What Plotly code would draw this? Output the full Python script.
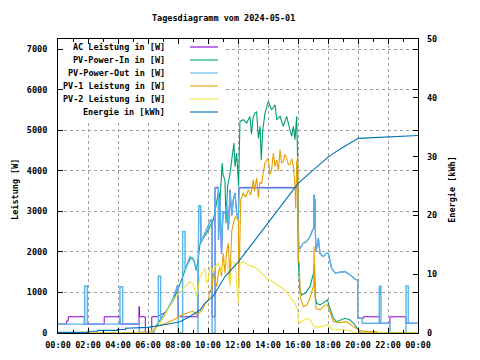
import plotly.graph_objects as go

title_text = "Tagesdiagramm vom 2024-05-01"
series_names = ["AC Leistung in [W]", "PV-Power-In in [W]", "PV-Power-Out in [W]",
                "PV-1 Leistung in [W]", "PV-2 Leistung in [W]", "Energie in [kWh]"]
series_colors = ["#9400d3", "#009e73", "#56b4e9", "#e69f00", "#f0e442", "#0072b2"]
series_widths = [1.0, 1.1, 1.4, 1.1, 1.1, 1.1]
x_tick_hours = [0, 2, 4, 6, 8, 10, 12, 14, 16, 18, 20, 22, 24]
x_tick_labels = ["00:00", "02:00", "04:00", "06:00", "08:00", "10:00", "12:00",
                 "14:00", "16:00", "18:00", "20:00", "22:00", "00:00"]
y_ticks = [0, 1000, 2000, 3000, 4000, 5000, 6000, 7000]
y2_ticks = [0, 10, 20, 30, 40, 50]
y_label = "Leistung [W]"
y2_label = "Energie [kWh]"

# AC Leistung [W]
ac_t = [0, 0.58, 0.58, 0.68, 0.68, 1.75, 1.75, 3.08, 3.08, 4.13, 4.13, 5.40, 5.40, 5.43, 5.43,
        5.82, 5.82, 6.25, 6.25, 6.60, 7.24, 7.69, 7.98, 8.02, 9.33, 9.38, 9.51, 9.53, 9.80,
        10.02, 10.18, 10.27, 10.27, 10.47, 10.47, 10.69, 10.70, 10.80, 10.90, 11.00, 11.13,
        11.24, 11.36, 11.47, 11.58, 11.69, 11.80, 11.91, 12.02, 12.07, 15.97, 16.02, 16.05,
        16.13, 16.36, 16.58, 16.80, 16.98, 17.05, 17.08, 17.10, 17.13, 17.16, 17.20, 17.36,
        17.47, 17.69, 17.91, 18.02, 18.13, 18.24, 18.47, 18.80, 19.13, 19.47, 19.80, 19.98,
        19.98, 20.36, 20.36, 21.42, 21.42, 22.13, 22.13, 23.20, 23.20, 24.00]
ac_w = [220, 220, 300, 300, 400, 400, 220, 220, 400, 400, 220, 220, 650, 650, 400,
        400, 0, 0, 400, 400, 527, 856, 1185, 400, 400, 3130, 3130, 2230, 2460,
        2667, 2790, 2790, 400, 400, 3590, 3590, 2300, 3300, 1960, 3000, 2955,
        3120, 2544, 3530, 2900, 3284, 3450, 2955, 2790, 3590, 3590, 2625, 2050,
        2090, 2214, 2255, 2378, 2543, 2580, 3407, 2600, 3300, 2460, 2008, 2337,
        1950, 1885, 1967, 1967, 1800, 1600, 1480, 1495, 1515, 1432, 1330, 1300,
        370, 360, 400, 400, 240, 240, 400, 400, 240, 240]

# PV-Power-In [W]
pvin_t = [0, 6.36, 6.58, 7.00, 7.24, 7.69, 8.02, 8.36, 8.58, 8.80, 8.95, 9.10, 9.20, 9.30,
          9.47, 9.70, 9.91, 10.13, 10.24, 10.36, 10.47, 10.58, 10.70, 10.80, 10.91, 10.95,
          11.00, 11.13, 11.20, 11.30, 11.47, 11.60, 11.73, 11.80, 11.91, 12.04, 12.10, 12.13,
          12.36, 12.58, 12.80, 12.90, 13.00, 13.13, 13.24, 13.36, 13.47, 13.55, 13.65, 13.80,
          14.02, 14.24, 14.47, 14.58, 14.80, 15.02, 15.24, 15.47, 15.58, 15.69, 15.80, 15.91,
          15.97, 16.02, 16.13, 16.24, 16.47, 16.80, 16.98, 17.05, 17.10, 17.15, 17.24, 17.47,
          17.80, 17.96, 18.09, 18.36, 18.58, 18.80, 19.13, 19.47, 19.80, 20.02, 20.20, 24.00]
pvin_w = [0, 0, 200, 420, 560, 800, 1100, 1450, 1650, 1820, 1860, 1750, 1550, 1700,
          2200, 2350, 2460, 2620, 2708, 2790, 3000, 3284, 3500, 3300, 3860, 4190,
          3900, 3778, 2708, 3600, 3943, 4300, 4683, 4100, 4436, 3614, 4500, 5218,
          5260, 5177, 5342, 4900, 5300, 5424, 5460, 4800, 5095, 4272, 5000, 5424,
          5712, 5506, 5630, 5260, 5342, 5095, 5342, 5013, 4850, 5095, 4766, 5342,
          4354, 1760, 1062, 938, 980, 1143, 1432, 1500, 1700, 900, 733, 691,
          773, 815, 650, 363, 280, 321, 363, 321, 198, 74, 0, 0]

# PV-Power-Out [W]
pvout_t = [0, 1.78, 1.78, 1.95, 1.95, 4.13, 4.13, 4.31, 4.31, 5.42, 5.42, 6.30, 6.50, 6.69,
           6.69, 6.84, 6.84, 7.24, 7.69, 7.98, 8.02, 8.31, 8.31, 8.47, 8.47, 8.69, 8.80, 9.02,
           9.24, 9.33, 9.33, 9.38, 9.38, 9.51, 9.53, 9.80, 10.02, 10.18, 10.27, 10.27, 10.47,
           10.47, 10.69, 10.70, 10.80, 10.90, 11.00, 11.13, 11.24, 11.36, 11.47, 11.58, 11.69,
           11.80, 11.91, 12.02, 12.07, 15.97, 16.02, 16.05, 16.13, 16.36, 16.58, 16.80, 16.98,
           17.05, 17.08, 17.10, 17.13, 17.16, 17.20, 17.36, 17.47, 17.69, 17.91, 18.02, 18.13,
           18.24, 18.47, 18.80, 19.13, 19.47, 19.80, 19.98, 19.98, 20.25, 20.30, 21.42, 21.42,
           21.47, 21.50, 21.53, 21.53, 22.13, 22.13, 23.20, 23.20, 23.35, 23.35, 24.00]
pvout_w = [220, 220, 1160, 1160, 220, 220, 1140, 1140, 230, 230, 0, 0, 120, 250,
           1400, 1400, 300, 540, 870, 1185, 0, 0, 2500, 2500, 1556, 1803, 1885, 1803,
           1556, 1550, 0, 0, 3130, 3130, 2230, 2460, 2667, 2790, 2790, 0, 0,
           3573, 3573, 2300, 3300, 1960, 3000, 2955, 3120, 2544, 3530, 2900, 3284,
           3450, 2955, 2790, 3573, 3573, 2625, 2050, 2090, 2214, 2255, 2378, 2543,
           2580, 3407, 2600, 3300, 2460, 2008, 2337, 1950, 1885, 1967, 1967, 1800,
           1600, 1480, 1495, 1515, 1432, 1330, 1300, 370, 360, 240, 240, 1160,
           940, 1160, 1160, 240, 240, 0, 0, 1160, 1160, 240, 240]

# PV-1 Leistung [W]
pv1_t = [0, 5.45, 5.45, 6.00, 6.30, 6.58, 7.24, 7.69, 7.91, 8.24, 8.50, 8.80, 9.00, 9.24, 9.50,
         9.69, 9.80, 10.02, 10.13, 10.24, 10.36, 10.47, 10.58, 10.70, 10.80, 10.90, 11.02,
         11.13, 11.24, 11.36, 11.47, 11.58, 11.69, 11.84, 12.02, 12.06, 12.12, 12.18, 12.36,
         12.50, 12.69, 12.85, 13.02, 13.10, 13.24, 13.36, 13.45, 13.58, 13.70, 13.80, 14.02,
         14.13, 14.24, 14.36, 14.47, 14.58, 14.70, 14.80, 14.90, 15.02, 15.13, 15.24, 15.36,
         15.47, 15.58, 15.69, 15.80, 15.85, 15.91, 15.98, 16.02, 16.09, 16.15, 16.20, 16.36,
         16.58, 16.80, 16.98, 17.05, 17.07, 17.12, 17.20, 17.47, 17.80, 17.96, 18.13, 18.36,
         18.80, 19.24, 19.69, 20.13, 20.58, 21.24, 21.30, 24.00]
pv1_w = [0, 0, 25, 30, 60, 160, 240, 320, 362, 444, 480, 510, 540, 444, 520,
         610, 733, 800, 1062, 1000, 1474, 1300, 1143, 1500, 1637, 1400, 1967,
         1474, 2000, 2214, 1310, 2500, 2708, 2873, 2790, 1143, 2500, 3284, 3450,
         3350, 3530, 3400, 3778, 3500, 3820, 3334, 3700, 3696, 4000, 4190, 4313,
         3900, 4025, 4436, 4100, 4272, 4000, 4519, 4200, 4230, 4400, 4313, 4150,
         4148, 4300, 4107, 3614, 3064, 4190, 4350, 1803, 1720, 900, 815, 650,
         691, 856, 1062, 1200, 2130, 1000, 609, 568, 691, 691, 527, 280,
         255, 280, 157, 58, 33, 33, 0, 0]

# PV-2 Leistung [W]
pv2_t = [0, 6.13, 6.50, 6.80, 7.24, 7.69, 8.00, 8.36, 8.80, 9.02, 9.24, 9.30, 9.47, 9.80, 9.91,
         10.02, 10.13, 10.24, 10.36, 10.47, 10.69, 10.90, 11.02, 11.24, 11.47, 11.58, 11.80,
         12.02, 12.08, 12.13, 12.36, 12.69, 13.02, 13.36, 13.69, 14.02, 14.13, 14.47, 14.80,
         15.13, 15.47, 15.80, 15.98, 16.02, 16.09, 16.24, 16.36, 16.58, 16.80, 17.07, 17.47,
         17.80, 17.96, 18.36, 18.80, 19.24, 19.69, 19.91, 24.00]
pv2_w = [0, 0, 100, 240, 527, 815, 950, 1100, 1267, 1185, 897, 1000, 1390, 1600, 1226,
         1310, 1637, 1597, 1474, 1637, 1720, 1500, 1679, 1803, 1143, 1760, 1720,
         733, 1300, 1720, 1760, 1679, 1637, 1556, 1433, 1310, 1310, 1227, 1145,
         1062, 897, 733, 568, 321, 240, 280, 321, 362, 339, 157, 146,
         172, 198, 74, 91, 74, 33, 0, 0]

# Energie [kWh]
en_t = [0, 2.00, 2.00, 2.65, 2.65, 3.95, 3.95, 4.50, 4.50, 6.00, 7.28, 8.13, 8.80, 9.47, 9.80,
        10.35, 11.13, 12.02, 13.13, 14.07, 16.02, 18.04, 19.00, 20.02, 21.50, 22.13, 23.35, 24.00]
en_kwh = [0.1, 0.1, 0.3, 0.3, 0.45, 0.45, 0.6, 0.6, 0.8, 0.95, 1.5, 1.9, 2.8, 3.9, 5.1,
          6.3, 9.6, 12.1, 15.8, 18.9, 25.5, 30.0, 31.6, 33.1, 33.3, 33.45, 33.6, 33.6]

series_data = [(ac_t, ac_w, "y"), (pvin_t, pvin_w, "y"), (pvout_t, pvout_w, "y"),
               (pv1_t, pv1_w, "y"), (pv2_t, pv2_w, "y"), (en_t, en_kwh, "y2")]

FONT = "DejaVu Sans Mono"
FS = 8.5
FW = "bold"
fig = go.Figure()
for (tt, vv, ax), name, col, lw in zip(series_data, series_names, series_colors, series_widths):
    fig.add_trace(go.Scatter(x=tt, y=vv, mode="lines", name=name, yaxis=ax,
                             line=dict(color=col, width=lw), showlegend=False))

tickfont = dict(family=FONT, size=FS, color="black", weight=FW)
# the page body has an 8px margin, so the figure margins are reduced by 8px
fig.update_layout(
    width=480, height=360,
    margin=dict(l=50, r=70, t=31, b=35, autoexpand=False),
    paper_bgcolor="white", plot_bgcolor="white",
    font=dict(family=FONT, size=FS, color="black"),
    showlegend=False,
    xaxis=dict(range=[0, 24], tickmode="array", tickvals=x_tick_hours, ticktext=x_tick_labels,
               ticks="inside", ticklen=5, tickcolor="black", showline=True, linecolor="black",
               linewidth=1, mirror="ticks", showgrid=True, gridcolor="#a0a0a0",
               griddash="3px,3px", gridwidth=1, zeroline=False, ticklabelstandoff=4,
               automargin=False, tickfont=tickfont,
               minor=dict(tick0=0, dtick=1, ticks="inside", ticklen=3, tickcolor="black",
                          showgrid=False)),
    yaxis=dict(range=[0, 7250], tickmode="array", tickvals=y_ticks,
               ticks="inside", ticklen=5, tickcolor="black", showline=True, linecolor="black",
               linewidth=1, mirror="ticks", showgrid=True, gridcolor="#a0a0a0",
               griddash="3px,3px", gridwidth=1, zeroline=False, ticklabelstandoff=8,
               automargin=False, tickfont=tickfont),
    yaxis2=dict(range=[0, 50], tickmode="array", tickvals=y2_ticks, overlaying="y",
                side="right", ticks="inside", ticklen=5, tickcolor="black", showline=False,
                showgrid=False, zeroline=False, ticklabelstandoff=8, automargin=False,
                tickfont=tickfont),
)

# opaque key area (drawn over grid; traces do not reach it)
fig.add_shape(type="rect", xref="paper", yref="paper", x0=0.017, x1=0.464, y0=0.7245, y1=0.98,
              fillcolor="white", line=dict(width=0), layer="above")

for i, (name, col) in enumerate(zip(series_names, series_colors)):
    yy = 1 - (8 + 13 * i) / 294
    fig.add_annotation(text=name, xref="paper", yref="paper", x=0.302, y=yy,
                       xanchor="right", yanchor="middle", showarrow=False, font=tickfont)
    fig.add_shape(type="line", xref="paper", yref="paper", x0=0.3667, x1=0.4444,
                  y0=yy, y1=yy, line=dict(color=col, width=1.1), layer="above")

fig.add_annotation(text=title_text, xref="paper", yref="paper", x=0.461, y=1.071,
                   xanchor="center", yanchor="middle", showarrow=False, font=tickfont)
fig.add_annotation(text=y_label, xref="paper", yref="paper", x=-0.1389, y=0.49,
                   textangle=-90, xanchor="left", yanchor="middle", showarrow=False,
                   font=tickfont)
fig.add_annotation(text=y2_label, xref="paper", yref="paper", x=1.094, y=0.49,
                   textangle=-90, xanchor="center", yanchor="middle", showarrow=False,
                   font=tickfont)

fig.write_html("out.html")
